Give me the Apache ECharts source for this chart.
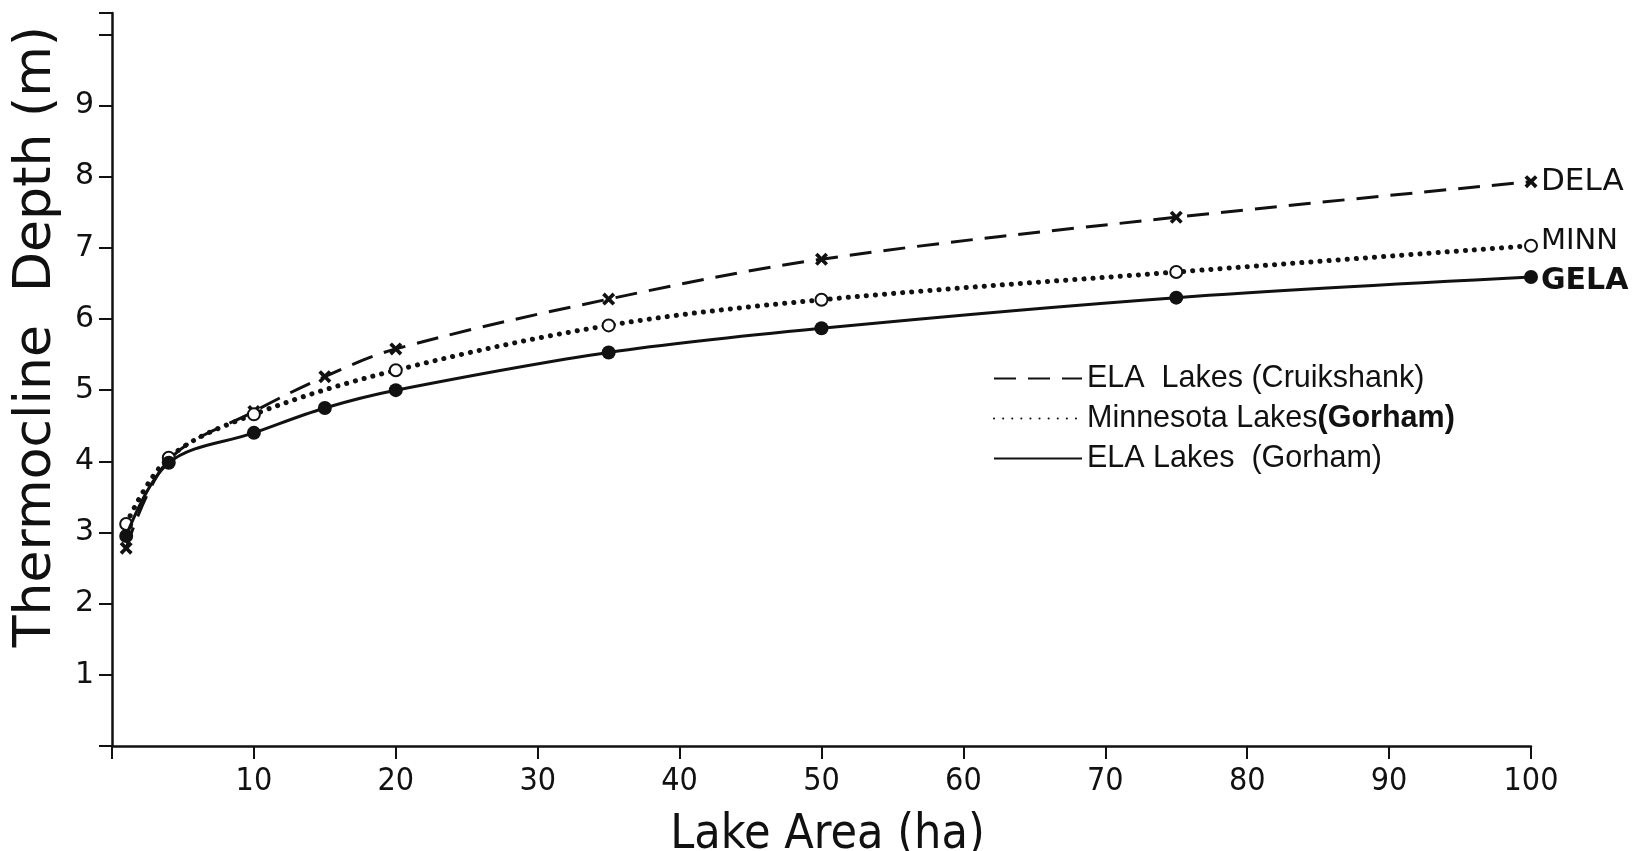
<!DOCTYPE html>
<html>
<head>
<meta charset="utf-8">
<script src="https://cdn.jsdelivr.net/npm/echarts@6/dist/echarts.min.js"></script>
<style>
  html, body { margin: 0; padding: 0; background: #fff; }
  #chart { width: 1642px; height: 851px; }
</style>
</head>
<body>
<div id="chart"></div>
<script>
// Lake area (ha) and thermocline depth (m) for three lake sets
const delaArea  = [1, 4, 10, 15, 20, 35, 50, 75, 100];
const delaDepth = [2.78, 4.02, 4.70, 5.19, 5.58, 6.28, 6.84, 7.43, 7.93];

const minnArea  = [1, 4, 10, 20, 35, 50, 75, 100];
const minnDepth = [3.12, 4.05, 4.66, 5.28, 5.91, 6.27, 6.66, 7.03];

const gelaArea  = [1, 4, 10, 15, 20, 35, 50, 75, 100];
const gelaDepth = [2.95, 3.98, 4.40, 4.75, 5.00, 5.53, 5.87, 6.30, 6.59];

const xTicks = [10, 20, 30, 40, 50, 60, 70, 80, 90, 100];
const yTicks = [1, 2, 3, 4, 5, 6, 7, 8, 9];

const seriesNames = ['ELA Lakes (Cruikshank)', 'Minnesota Lakes(Gorham)', 'ELA Lakes (Gorham)'];
const endNames = ['DELA', 'MINN', 'GELA'];

const INK = '#111';
const NARROW = '"DejaVu Sans Condensed", "Liberation Sans", sans-serif';
const crossPath = 'path://M2,0 L5,3 L8,0 L10,2 L7,5 L10,8 L8,10 L5,7 L2,10 L0,8 L3,5 L0,2 Z';

function pairs(xs, ys) { return xs.map((x, i) => [x, ys[i]]); }

const chart = echarts.init(document.getElementById('chart'), null, { renderer: 'canvas' });

chart.setOption({
  backgroundColor: '#fff',
  animation: false,
  grid: { left: 112, right: 111, top: 13, bottom: 105, containLabel: false, outerBoundsMode: 'none' },
  legend: {
    orient: 'vertical',
    left: 988,
    top: 358,
    itemWidth: 88,
    itemHeight: 18,
    itemGap: 9,
    itemStyle: { opacity: 0 },
    data: seriesNames,
    formatter: function (name) {
      if (name === seriesNames[1]) return '{r|Minnesota Lakes}{b|(Gorham)}';
      if (name === seriesNames[0]) return '{r|ELA  Lakes (Cruikshank)}';
      return '{r|ELA Lakes  (Gorham)}';
    },
    textStyle: {
      color: INK,
      fontFamily: 'Liberation Sans',
      fontSize: 30,
      rich: {
        r: { fontFamily: 'Liberation Sans', fontSize: 30.5, color: INK },
        b: { fontFamily: 'Liberation Sans', fontSize: 30.5, fontWeight: 'bold', color: INK }
      }
    }
  },
  xAxis: {
    type: 'value',
    min: 0,
    max: 100,
    interval: 10,
    name: 'Lake Area (ha)',
    nameLocation: 'middle',
    nameGap: 66,
    nameTextStyle: { fontFamily: NARROW, fontSize: 48, color: INK, padding: [0, 0, 0, 12] },
    axisLine: { show: true, lineStyle: { color: INK, width: 2.5 } },
    axisTick: { show: true, inside: false, length: 13, lineStyle: { color: INK, width: 2 } },
    axisLabel: {
      margin: 20,
      color: INK,
      fontFamily: NARROW,
      fontSize: 32,
      formatter: v => (xTicks.indexOf(v) >= 0 ? String(v) : '')
    },
    splitLine: { show: false }
  },
  yAxis: {
    type: 'value',
    min: 0,
    max: 10.3,
    interval: 1,
    name: 'Thermocline  Depth (m)',
    nameLocation: 'middle',
    nameGap: 50,
    nameRotate: 90,
    nameTextStyle: { fontFamily: 'DejaVu Sans', fontSize: 52, color: INK, padding: [0, 0, 0, 86] },
    axisLine: { show: true, lineStyle: { color: INK, width: 2.5 } },
    axisTick: { show: true, inside: false, length: 13, lineStyle: { color: INK, width: 2 } },
    axisLabel: {
      margin: 18,
      color: INK,
      fontFamily: 'DejaVu Sans',
      fontSize: 30,
      formatter: v => (yTicks.indexOf(v) >= 0 ? String(v) : '')
    },
    splitLine: { show: false }
  },
  series: [
    {
      name: seriesNames[0],
      type: 'line',
      smooth: 0.35,
      data: pairs(delaArea, delaDepth),
      symbol: crossPath,
      symbolSize: 13,
      itemStyle: { color: INK },
      lineStyle: { color: INK, width: 3, type: [22, 12] },
      endLabel: {
        show: true, formatter: endNames[0], offset: [2, 0],
        color: INK, fontFamily: 'DejaVu Sans', fontSize: 31
      },
      z: 3
    },
    {
      name: seriesNames[1],
      type: 'line',
      smooth: 0.35,
      data: pairs(minnArea, minnDepth),
      symbol: 'emptyCircle',
      symbolSize: 12,
      itemStyle: { color: INK, borderWidth: 2 },
      lineStyle: { color: INK, width: 5, type: [0.1, 9], cap: 'round' },
      endLabel: {
        show: true, formatter: endNames[1], offset: [2, -4],
        color: INK, fontFamily: 'DejaVu Sans', fontSize: 29
      },
      z: 4
    },
    {
      name: seriesNames[2],
      type: 'line',
      smooth: 0.35,
      data: pairs(gelaArea, gelaDepth),
      symbol: 'circle',
      symbolSize: 14,
      itemStyle: { color: INK },
      lineStyle: { color: INK, width: 3 },
      endLabel: {
        show: true, formatter: endNames[2], offset: [2, 4],
        color: INK, fontFamily: 'DejaVu Sans', fontWeight: 'bold', fontSize: 30
      },
      z: 5
    }
  ]
});
</script>
</body>
</html>
